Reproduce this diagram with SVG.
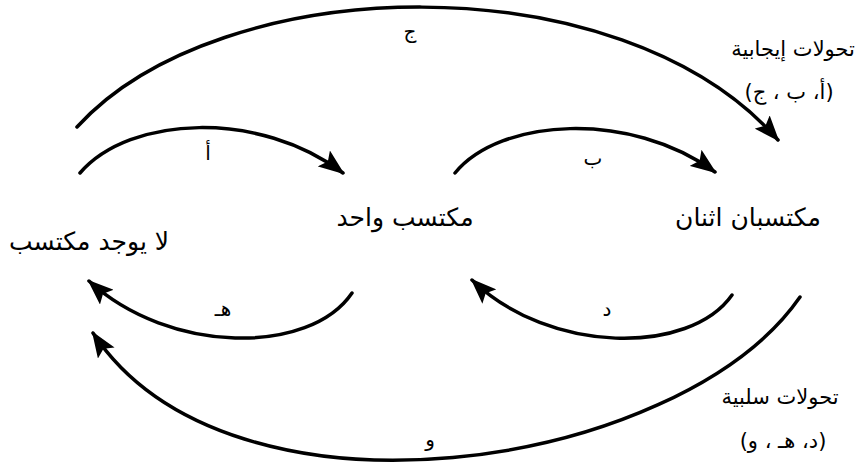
<svg xmlns="http://www.w3.org/2000/svg" width="860" height="469" viewBox="0 0 860 469">
<style>
.arc{fill:none;stroke:#000;stroke-width:3.5;stroke-linecap:round;marker-end:url(#ah)}
.t{font-family:"DejaVu Sans","Noto Sans",sans-serif;fill:#000;text-anchor:middle}
.node{font-size:25px}
.lbl{font-size:20px}
.side{font-size:21px}
</style>
<defs>
<marker id="ah" viewBox="0 0 26 20" markerUnits="userSpaceOnUse" markerWidth="26" markerHeight="20" refX="24" refY="10" orient="auto">
<path d="M0,0 L26,10 L0,20 L5,10 z" fill="#000"/>
</marker>
</defs>
<rect width="860" height="469" fill="#fff"/>
<g id="connectors">
<path class="arc" d="M77,127 C220,-30 620,-40 778,140"/>
<path class="arc" d="M80,173 C130,115 260,110 343,173"/>
<path class="arc" d="M455,173 C500,118 630,110 715,172"/>
<path class="arc" d="M352,293 C310,355 170,355 89,281"/>
<path class="arc" d="M732,295 C690,355 550,355 472,280"/>
<path class="arc" d="M800,297 C680,470 230,540 93,333"/>
<text class="t lbl" x="410" y="38">ج</text>
<text class="t lbl" x="208" y="160">أ</text>
<text class="t lbl" x="593" y="165">ب</text>
<text class="t lbl" x="223" y="316">هـ</text>
<text class="t lbl" x="607" y="316">د</text>
<text class="t lbl" x="430" y="446">و</text>
</g>
<g id="node-none"><text class="t node" x="89" y="250">لا يوجد مكتسب</text></g>
<g id="node-one"><text class="t node" x="405" y="226">مكتسب واحد</text></g>
<g id="node-two"><text class="t node" x="748" y="226">مكتسبان اثنان</text></g>
<g id="positive"><text class="t side" x="793" y="56">تحولات إيجابية</text><text class="t side" x="789" y="99">(أ، ب ، ج)</text></g>
<g id="negative"><text class="t side" x="780" y="404">تحولات سلبية</text><text class="t side" x="783" y="448">(د، هـ ، و)</text></g>
</svg>
